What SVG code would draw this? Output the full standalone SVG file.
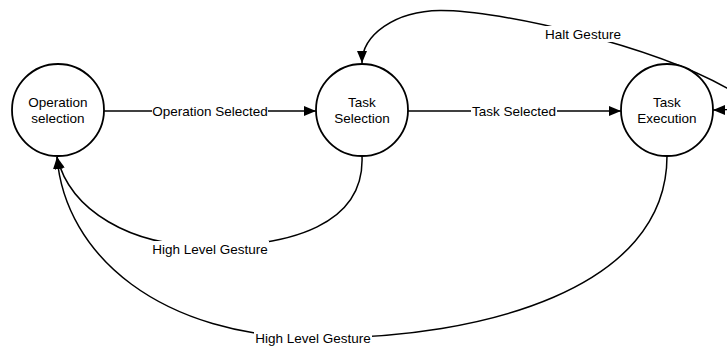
<svg xmlns="http://www.w3.org/2000/svg" width="727" height="348" viewBox="0 0 727 348">
<style>
.node circle{fill:#fff;stroke:#000;stroke-width:1.8}
text{font-family:"Liberation Sans",Arial,sans-serif;font-size:13.5px;fill:#000;text-anchor:middle}
.edge{fill:none;stroke:#000;stroke-width:1.5}
.lbg{fill:#fff}
</style>
<defs>
<marker id="arr" markerWidth="12" markerHeight="10" refX="12" refY="5" orient="auto" markerUnits="userSpaceOnUse">
<path d="M0,0 L12,5 L0,10 Z" fill="#000"/>
</marker>
<marker id="arrs" markerWidth="12" markerHeight="10" refX="0" refY="5" orient="auto" markerUnits="userSpaceOnUse">
<path d="M12,0 L0,5 L12,10 Z" fill="#000"/>
</marker>
</defs>
<g id="connectors">
<path class="edge" d="M104,111 L316,111" marker-end="url(#arr)"/>
<path class="edge" d="M408,111 L621,111" marker-end="url(#arr)"/>
<path class="edge" d="M713,110 C745,110 757,105 727,88 C650,45 500,10 440,10.5 C395,11 362,35 362,63" marker-start="url(#arrs)" marker-end="url(#arr)"/>
<path class="edge" d="M362,156 C365,225 290,246 210,246 C130,247 70,210 57,157" marker-end="url(#arr)"/>
<path class="edge" d="M667,156 C667,290 480,338 320,338 C160,338 65,255 57,157" marker-end="url(#arr)"/>
<rect class="lbg" x="152" y="103" width="116" height="16"/>
<text x="210" y="116">Operation Selected</text>
<rect class="lbg" x="471" y="103" width="86" height="16"/>
<text x="514" y="116">Task Selected</text>
<rect class="lbg" x="544" y="26" width="78" height="16"/>
<text x="583" y="39">Halt Gesture</text>
<rect class="lbg" x="151" y="241" width="118" height="16"/>
<text x="210" y="254">High Level Gesture</text>
<rect class="lbg" x="254" y="330" width="118" height="16"/>
<text x="313" y="343">High Level Gesture</text>
</g>
<g id="op-selection" class="node">
<circle cx="58" cy="110" r="46"/>
<text x="58" y="107">Operation</text>
<text x="58" y="123">selection</text>
</g>
<g id="task-selection" class="node">
<circle cx="362" cy="110" r="46"/>
<text x="362" y="107">Task</text>
<text x="362" y="123">Selection</text>
</g>
<g id="task-execution" class="node">
<circle cx="667" cy="110" r="46"/>
<text x="667" y="107">Task</text>
<text x="667" y="123">Execution</text>
</g>
</svg>
